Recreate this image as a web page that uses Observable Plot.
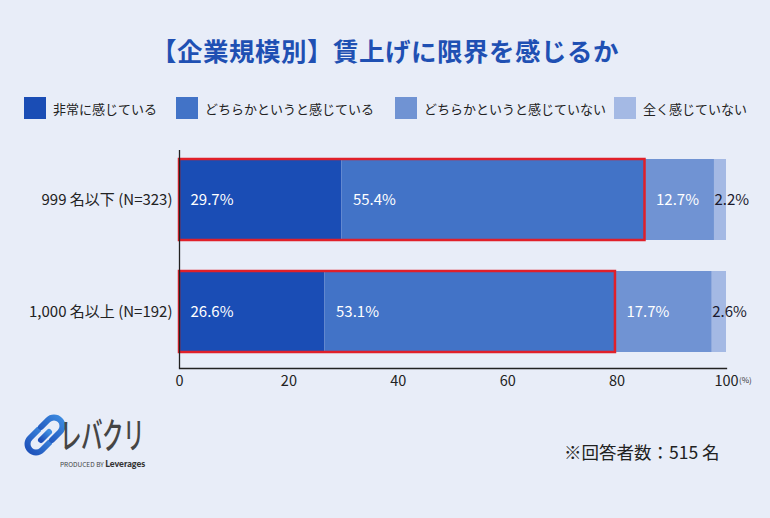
<!DOCTYPE html>
<html>
<head>
<meta charset="utf-8">
<script src="https://cdn.jsdelivr.net/npm/d3@7"></script>
<script src="https://cdn.jsdelivr.net/npm/@observablehq/plot@0.6"></script>
<style>
  html, body { margin: 0; padding: 0; }
  body { width: 770px; height: 518px; background: #e8edf8; position: relative; overflow: hidden;
         font-family: "Noto Sans CJK JP", "Noto Sans", sans-serif; color: #222; }
  #title { position: absolute; top: 31px; left: 0; width: 770px; text-align: center; font-size: 25.5px; font-weight: 700; color: #1f50b3; letter-spacing: 0.5px; }
  .leg { position: absolute; top: 97px; height: 22px; display: flex; align-items: center; font-size: 13px; color: #222; }
  .leg span.sw { display: inline-block; width: 22px; height: 22px; margin-right: 7px; }
  #chart { position: absolute; top: 140px; left: 0; }
  #pct { position: absolute; left: 739px; top: 375px; font-size: 8px; line-height: 10px; color: #333; }
  #note { position: absolute; left: 564px; top: 439px; font-size: 17.5px; line-height: 26px; color: #222; font-weight: 400; }
  #logo { position: absolute; left: 22px; top: 410px; }
  #logotext { position: absolute; left: 60px; top: 414px; font-size: 36px; line-height: 38px; height: 38px; color: #454545; font-weight: 500;
              transform: scaleX(0.6); transform-origin: left top; letter-spacing: -1px; }
  #produced { position: absolute; left: 60px; top: 458px; font-size: 6.5px; line-height: 11px; color: #444; white-space: nowrap; }
  #produced b { font-family: "Lato", "Noto Sans", sans-serif; font-size: 9px; font-weight: 900; color: #333; }
</style>
</head>
<body>
<div id="title">【企業規模別】賃上げに限界を感じるか</div>
<div id="legend"></div>
<div id="chart"></div>
<div id="pct">(%)</div>
<svg id="logo" width="46" height="52" viewBox="0 0 46 52">
  <defs>
    <linearGradient id="lg" x1="0" y1="1" x2="1" y2="0">
      <stop offset="0" stop-color="#1d4fb8"/>
      <stop offset="1" stop-color="#3d8be0"/>
    </linearGradient>
  </defs>
  <g fill="none" stroke="url(#lg)" stroke-width="6" stroke-linecap="round">
    <path d="M16 20 L8 28 A8 8 0 0 0 20 40 L27 33"/>
    <path d="M19 30 L27 22"/>
    <path d="M30 30 L38 22 A8 8 0 0 0 26 10 L19 17"/>
  </g>
</svg>
<div id="logotext">レバクリ</div>
<div id="produced">PRODUCED BY <b>Leverages</b></div>
<div id="note">※回答者数：515 名</div>
<script>
const groups = ["999 名以下 (N=323)", "1,000 名以上 (N=192)"];
const categories = ["非常に感じている", "どちらかというと感じている", "どちらかというと感じていない", "全く感じていない"];
const values999 = [29.7, 55.4, 12.7, 2.2];
const values1000 = [26.6, 53.1, 17.7, 2.6];
const colors = ["#1a4db5", "#4273c7", "#7093d3", "#a4b9e4"];
const xTicks = [0, 20, 40, 60, 80, 100];
const legendLefts = [24, 176, 395, 614];

// legend
const legend = document.getElementById("legend");
categories.forEach((c, i) => {
  const d = document.createElement("div");
  d.className = "leg";
  d.style.left = legendLefts[i] + "px";
  d.innerHTML = `<span class="sw" style="background:${colors[i]}"></span>${c}`;
  legend.appendChild(d);
});

const seriesValues = [values999, values1000];
const data = [];
groups.forEach((g, gi) => {
  categories.forEach((c, ci) => {
    data.push({group: g, category: c, ci, value: seriesValues[gi][ci]});
  });
});
const highlight = groups.map((g, gi) => ({group: g, value: seriesValues[gi][0] + seriesValues[gi][1]}));

const chart = Plot.plot({
  width: 770,
  height: 270,
  marginLeft: 179,
  marginRight: 44,
  marginTop: 10,
  marginBottom: 42,
  style: {background: "transparent", fontFamily: "'Noto Sans CJK JP', 'Noto Sans', sans-serif", color: "#222"},
  x: {domain: [0, 100], ticks: xTicks, label: null},
  y: {domain: groups, range: [18, 213], paddingInner: 0.274, paddingOuter: 0, label: null},
  color: {domain: categories, range: colors},
  marks: [
    Plot.barX(data, Plot.stackX({x: "value", y: "group", fill: "category", order: null})),
    Plot.barX(highlight, {x: "value", y: "group", fill: "none", stroke: "#e0202a", strokeWidth: 2.5}),
    Plot.text(data, Plot.filter(d => d.ci < 3, Plot.stackX1({
      x: "value", y: "group", order: null, text: d => d.value.toFixed(1) + "%",
      textAnchor: "start", dx: 11, fill: "white", fontSize: 15
    }))),
    Plot.text(data, Plot.filter(d => d.ci === 3, Plot.stackX1({
      x: "value", y: "group", order: null, text: d => d.value.toFixed(1) + "%",
      textAnchor: "start", dx: 0, fill: "#1a1a2e", fontSize: 15
    }))),
    Plot.ruleX([0], {stroke: "#222", strokeWidth: 1.3}),
    Plot.frame({anchor: "bottom", stroke: "#222", strokeWidth: 1.3}),
    Plot.axisX({ticks: xTicks, tickSize: 0, tickPadding: 7, fontSize: 14.5, label: null, fill: "#222"}),
    Plot.axisY({tickSize: 0, tickPadding: 7, fontSize: 15, label: null, fill: "#222"})
  ]
});
document.getElementById("chart").appendChild(chart);
</script>
</body>
</html>
